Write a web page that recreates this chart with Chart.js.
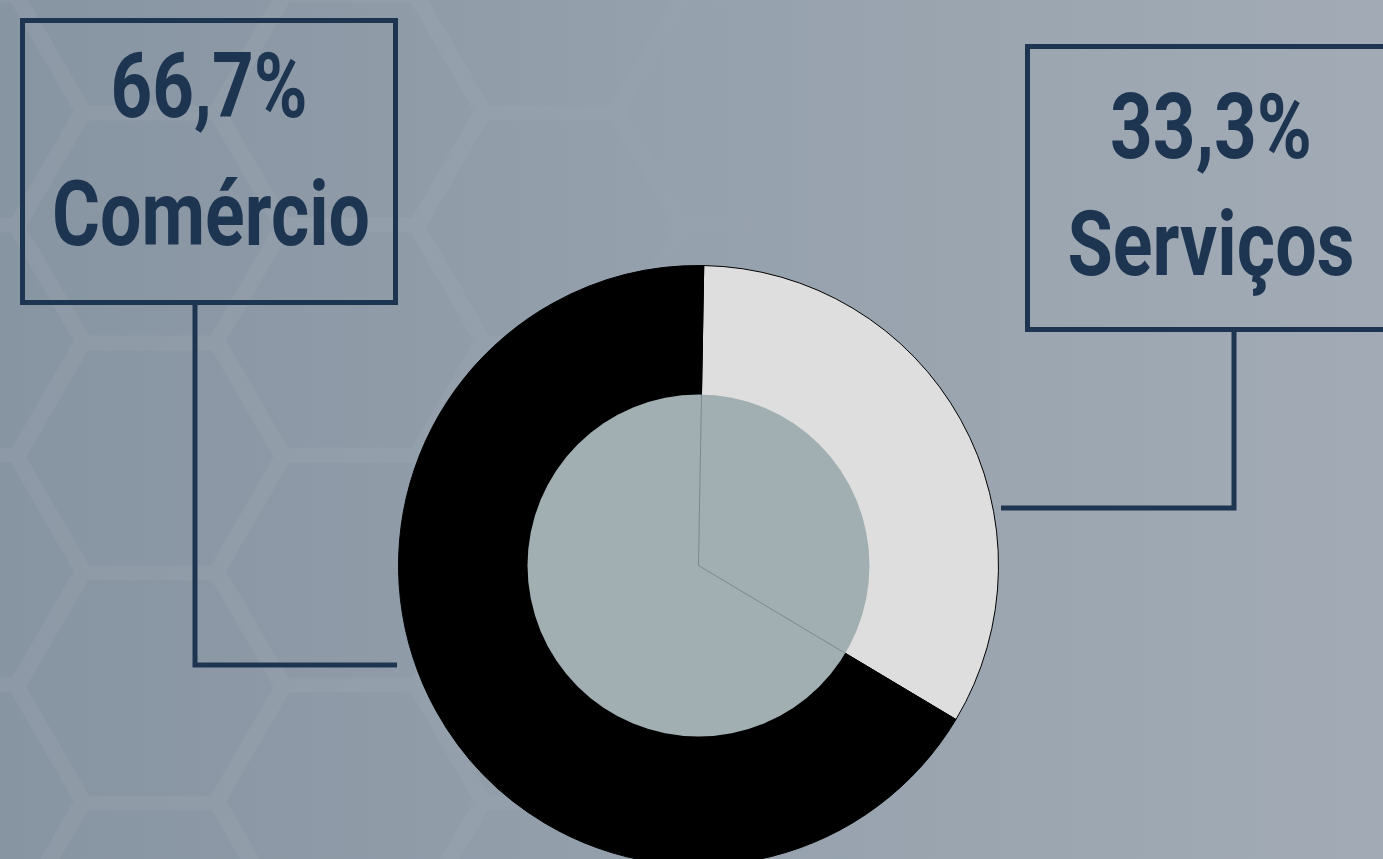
<!DOCTYPE html>
<html>
<head>
<meta charset="utf-8">
<script src="https://cdn.jsdelivr.net/npm/chart.js@4.4.0/dist/chart.umd.min.js"></script>
<style>
html,body{margin:0;padding:0;width:1383px;height:859px;overflow:hidden;background:#95a1ad;}
#wrap{position:absolute;left:0;top:0;width:1383px;height:859px;overflow:hidden;}
#chart{position:absolute;left:0;top:0;}
.box{position:absolute;box-sizing:border-box;border:5px solid #1e3552;}
.lbl{position:absolute;white-space:nowrap;font-family:Roboto,"Liberation Sans","DejaVu Sans Condensed",sans-serif;font-weight:bold;font-size:91px;line-height:91px;color:#1e3552;transform-origin:center;}
</style>
</head>
<body>
<div id="wrap">
  <canvas id="chart" width="1383" height="1131"></canvas>
  <div class="box" style="left:20px;top:18px;width:378px;height:287px;"></div>
  <div class="box" style="left:1025px;top:44px;width:372px;height:288px;"></div>
  <div class="lbl" id="pct1" data-w="197" style="left:209px;top:41px;"></div>
  <div class="lbl" id="cat1" data-w="318" style="left:211px;top:169px;"></div>
  <div class="lbl" id="pct0" data-w="202" style="left:1211px;top:82px;"></div>
  <div class="lbl" id="cat0" data-w="287" style="left:1211px;top:199px;"></div>
</div>
<script>
// ---- data ----
const categories = ['Serviços', 'Comércio'];
const shares = [33.3, 66.7];
const sliceColors = ['#dedede', '#000000'];
const startRotation = 1; // degrees clockwise from top

const fmt = v => v.toFixed(1).replace('.', ',') + '%';
categories.forEach((c, i) => {
  document.getElementById('cat' + i).textContent = c;
  document.getElementById('pct' + i).textContent = fmt(shares[i]);
});
// condense the labels to the reference's narrow type
document.querySelectorAll('.lbl').forEach(el => {
  const natural = el.getBoundingClientRect().width;
  const s = (+el.dataset.w) / natural;
  el.style.transform = 'translateX(-50%) scaleX(' + s.toFixed(4) + ')';
});

// ---- decoration plugins ----
const bgPlugin = {
  id: 'bg',
  beforeDraw(chart) {
    const ctx = chart.ctx, W = chart.width, H = chart.height;
    ctx.save();
    const g = ctx.createLinearGradient(0, 0, 1383, 0);
    g.addColorStop(0, '#8794a1');
    g.addColorStop(0.5, '#95a1ad');
    g.addColorStop(1, '#a2abb5');
    ctx.fillStyle = g;
    ctx.fillRect(0, 0, W, H);
    // honeycomb
    const a = 133, dx = 200, dy = 230;
    const sg = ctx.createLinearGradient(0, 0, 800, 0);
    sg.addColorStop(0, 'rgba(255,255,255,0.05)');
    sg.addColorStop(0.5, 'rgba(255,255,255,0.04)');
    sg.addColorStop(1, 'rgba(255,255,255,0)');
    ctx.strokeStyle = sg;
    ctx.lineWidth = 15;
    ctx.lineJoin = 'miter';
    ctx.beginPath();
    for (let i = -1; i < 6; i++) {
      const cx = 150 + i * dx;
      const off = (Math.abs(i) % 2 === 1) ? 112 : 0;
      for (let j = -2; j < 6; j++) {
        const cy = 458 + off + j * dy;
        ctx.moveTo(cx - a, cy);
        ctx.lineTo(cx - a / 2, cy - dy / 2);
        ctx.lineTo(cx + a / 2, cy - dy / 2);
        ctx.lineTo(cx + a, cy);
        ctx.lineTo(cx + a / 2, cy + dy / 2);
        ctx.lineTo(cx - a / 2, cy + dy / 2);
        ctx.closePath();
      }
    }
    ctx.stroke();
    ctx.restore();
  }
};

const decoPlugin = {
  id: 'deco',
  beforeDatasetsDraw(chart) {
    const ctx = chart.ctx;
    ctx.save();
    ctx.strokeStyle = '#1e3552';
    ctx.lineWidth = 5;
    ctx.lineJoin = 'miter';
    ctx.beginPath();
    ctx.moveTo(195, 303);
    ctx.lineTo(195, 665);
    ctx.lineTo(397, 665);
    ctx.moveTo(1234, 330);
    ctx.lineTo(1234, 508);
    ctx.lineTo(1001, 508);
    ctx.stroke();
    ctx.restore();
  },
  afterDatasetsDraw(chart) {
    const ctx = chart.ctx;
    const meta = chart.getDatasetMeta(0);
    const el0 = meta.data[0];
    const cx = el0.x, cy = el0.y;
    const r = el0.outerRadius * 0.57;
    ctx.save();
    ctx.fillStyle = '#a1aeb2';
    ctx.beginPath();
    ctx.arc(cx, cy, r, 0, Math.PI * 2);
    ctx.fill();
    ctx.strokeStyle = 'rgba(90,110,110,0.55)';
    ctx.lineWidth = 1;
    ctx.beginPath();
    meta.data.forEach(el => {
      ctx.moveTo(cx, cy);
      ctx.lineTo(cx + r * Math.cos(el.startAngle), cy + r * Math.sin(el.startAngle));
    });
    ctx.stroke();
    ctx.restore();
  }
};

new Chart(document.getElementById('chart'), {
  type: 'pie',
  data: {
    labels: categories,
    datasets: [{
      data: shares,
      backgroundColor: sliceColors,
      borderColor: '#000000',
      borderWidth: 1,
      hoverOffset: 0
    }]
  },
  options: {
    responsive: false,
    animation: false,
    rotation: startRotation,
    layout: { padding: { left: 398, right: 384, top: 265, bottom: 265 } },
    plugins: { legend: { display: false }, tooltip: { enabled: false } },
    events: []
  },
  plugins: [bgPlugin, decoPlugin]
});
</script>
</body>
</html>
